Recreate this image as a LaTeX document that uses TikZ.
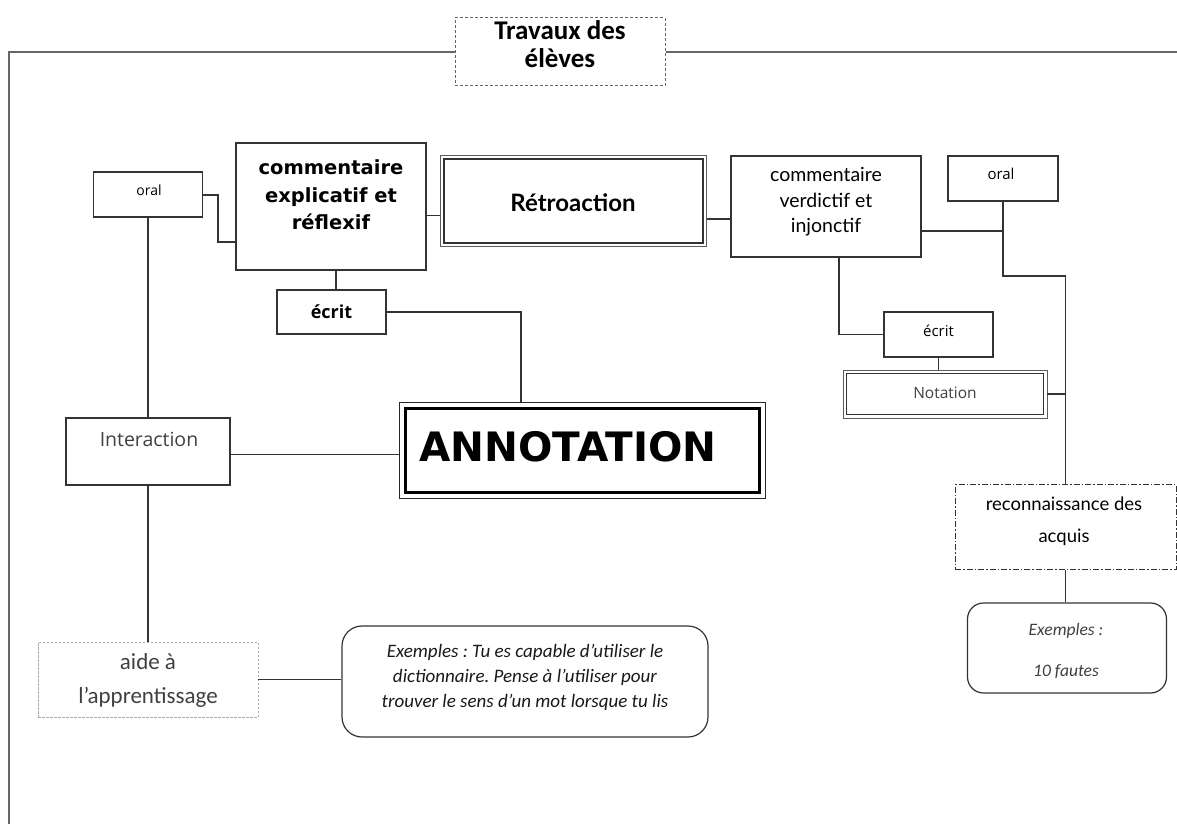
\documentclass[tikz,border=0pt]{standalone}
\usepackage{fontspec}
\setmainfont{Open Sans}
\newfontfamily\carlito{Carlito}
\newfontfamily\dejavu{DejaVu Sans}
\newfontfamily\lato{Lato}
\usetikzlibrary{calc}
\definecolor{ln}{HTML}{333333}
\definecolor{frm}{HTML}{666666}
\definecolor{lite}{HTML}{A8A8A8}
\definecolor{gtxt}{HTML}{404040}
\frenchspacing
\begin{document}
\begin{tikzpicture}[x=1pt,y=-1pt,
  box/.style={draw=ln, line width=1.2pt, inner sep=0pt},
  dbox/.style={draw=ln!80, line width=0.9pt, inner sep=0pt},
  dinner/.style={draw=ln, line width=1.8pt},
  rbox/.style={draw=ln, line width=1.2pt, rounded corners=16pt, inner sep=0pt},
  conn/.style={draw=ln, line width=1.2pt},
  frame/.style={draw=frm, line width=1.8pt},
  txt/.style={inner sep=0pt, align=center, text=black},
]
\fill[white] (0,0) rectangle (1177,824);
\useasboundingbox (0,0) rectangle (1177,824);

% boxes
\node[draw=frm, line width=1pt, dash pattern=on 3pt off 2pt, inner sep=0pt,
      minimum width=210pt, minimum height=68pt] (title) at (560,52) {};
\node[box, minimum width=109pt, minimum height=45pt] (oralL) at (148,194.5) {};
\node[box, minimum width=190pt, minimum height=127pt] (cex) at (331,206.5) {};
\node[dbox, minimum width=266pt, minimum height=91pt] (retro) at (573.5,201) {};
\draw[dinner] ($(retro.north west)+(4,4)$) rectangle ($(retro.south east)+(-4,-4)$);
\node[box, minimum width=190pt, minimum height=101pt] (cver) at (826,206.5) {};
\node[box, minimum width=110pt, minimum height=45pt] (oralR) at (1003,178.5) {};
\node[box, minimum width=109pt, minimum height=44pt] (ecritL) at (331.5,312) {};
\node[box, minimum width=109pt, minimum height=45pt] (ecritR) at (938.5,334.5) {};
\node[dbox, minimum width=204pt, minimum height=48pt] (notation) at (945,394) {};
\draw[dinner] ($(notation.north west)+(4,4)$) rectangle ($(notation.south east)+(-4,-4)$);
\node[box, minimum width=164pt, minimum height=67pt] (inter) at (148,451.5) {};
\node[draw=black, line width=2.6pt, inner sep=0pt, minimum width=355pt, minimum height=85pt] (ann) at (582.5,450.5) {};
\draw[black!85, line width=0.9pt] ($(ann.north west)+(-4.5,-4.5)$) rectangle ($(ann.south east)+(4.5,4.5)$);
\draw[black, line width=0.9pt] ($(ann.north west)+(3.2,3.2)$) rectangle ($(ann.south east)+(-3.2,-3.2)$);
\node[draw=ln, line width=1pt, dash pattern=on 6pt off 2pt on 1.5pt off 2pt, inner sep=0pt,
      minimum width=221pt, minimum height=85pt] (recon) at (1065.5,527) {};
\node[rbox, minimum width=199pt, minimum height=90pt] (fautes) at (1067,648) {};
\node[draw=lite, line width=0.8pt, dash pattern=on 2.5pt off 1.5pt, inner sep=0pt,
      minimum width=220pt, minimum height=75pt] (aide) at (148,679.5) {};
\node[rbox, rounded corners=20pt, minimum width=366pt, minimum height=111pt] (exbig) at (525,681.5) {};

% texts
\node[txt, font={\carlito\bfseries\fontsize{27}{28}\selectfont}] (t-title) at (560,44) {Travaux des\\élèves};
\node[txt, font={\fontsize{14}{16}\selectfont}] (t-oralL) at (149,190) {oral};
\node[txt, font={\dejavu\bfseries\fontsize{19.5}{27.5}\selectfont}] (t-cex) at (331,195) {commentaire\\explicatif et\\réflexif};
\node[txt, font={\lato\bfseries\fontsize{24}{26}\selectfont}] (t-retro) at (573,203) {Rétroaction};
\node[txt, font={\lato\fontsize{19.5}{25.5}\selectfont}] (t-cver) at (826,202) {commentaire\\verdictif et\\injonctif};
\node[txt, font={\fontsize{15}{17}\selectfont}] (t-oralR) at (1001,174) {oral};
\node[txt, font={\bfseries\fontsize{18}{20}\selectfont}] (t-ecritL) at (331.5,312) {écrit};
\node[txt, font={\fontsize{15}{17}\selectfont}] (t-ecritR) at (938.5,331) {écrit};
\node[txt, text=gtxt, font={\fontsize{15.5}{17}\selectfont}] (t-notation) at (945,393) {Notation};
\node[txt, text=gtxt, font={\fontsize{19.5}{22}\selectfont}] (t-inter) at (149,439) {Interaction};
\node[inner sep=0pt, anchor=base west, font={\dejavu\bfseries\fontsize{40.5}{44}\selectfont}] (t-ann) at (419,461) {ANNOTATION};
\node[txt, font={\lato\fontsize{18.5}{32}\selectfont}] (t-recon) at (1064,521) {reconnaissance des\\acquis};
\node[txt, text=gtxt, font={\carlito\itshape\fontsize{17.5}{41}\selectfont}] (t-fautes) at (1066,651) {Exemples :\\10 fautes};
\node[txt, text=gtxt, font={\carlito\fontsize{23}{34}\selectfont}] (t-aide) at (148,680) {aide à\\l’apprentissage};
\node[txt, text=black!90, font={\carlito\itshape\fontsize{19}{25}\selectfont}] (t-exbig) at (525,677) {Exemples : Tu es capable d’utiliser le\\dictionnaire. Pense à l’utiliser pour\\trouver le sens d’un mot lorsque tu lis};

% frame
\draw[frame] (9,824) -- (9,52) -- (title.west);
\draw[frame] (title.east) -- (1177,52);

% connectors
\draw[conn] ($(oralL.east)+(0,0.5)$) -| (218,242) -- (218,242 -| cex.west);
\draw[conn] (oralL.south) -- (inter.north);
\draw[conn] (inter.south) -- (aide.north);
\draw[conn] ($(inter.east)+(0,3)$) -- ($(inter.east -| ann.west)+(-4.5,3)$);
\draw[conn] ($(cex.east)+(0,9)$) -- ($(cex.east -| retro.west)+(0,9)$);
\draw[conn] ($(retro.east)+(0,18)$) -- ($(retro.east -| cver.west)+(0,18)$);
\draw[conn] ($(cex.south)+(5,0)$) -- ($(ecritL.north)+(4.5,0)$);
\draw[conn] (ecritL.east) -| ($(ann.north)+(-61.5,-4.5)$);
\draw[conn] ($(cver.east)+(0,24.5)$) -- ($(cver.east -| oralR.south)+(0,24.5)$);
\draw[conn] (oralR.south) -- (1003,276) -| (recon.north);
\draw[conn] (notation.east) -- (notation.east -| recon.north);
\draw[conn] ($(cver.south)+(13,0)$) |- (ecritR.west);
\draw[conn] (ecritR.south) -- (ecritR.south |- notation.north);
\draw[conn] (recon.south) -- (recon.south |- fautes.north);
\draw[conn] (aide.east) -- (aide.east -| exbig.west);
\end{tikzpicture}
\end{document}
